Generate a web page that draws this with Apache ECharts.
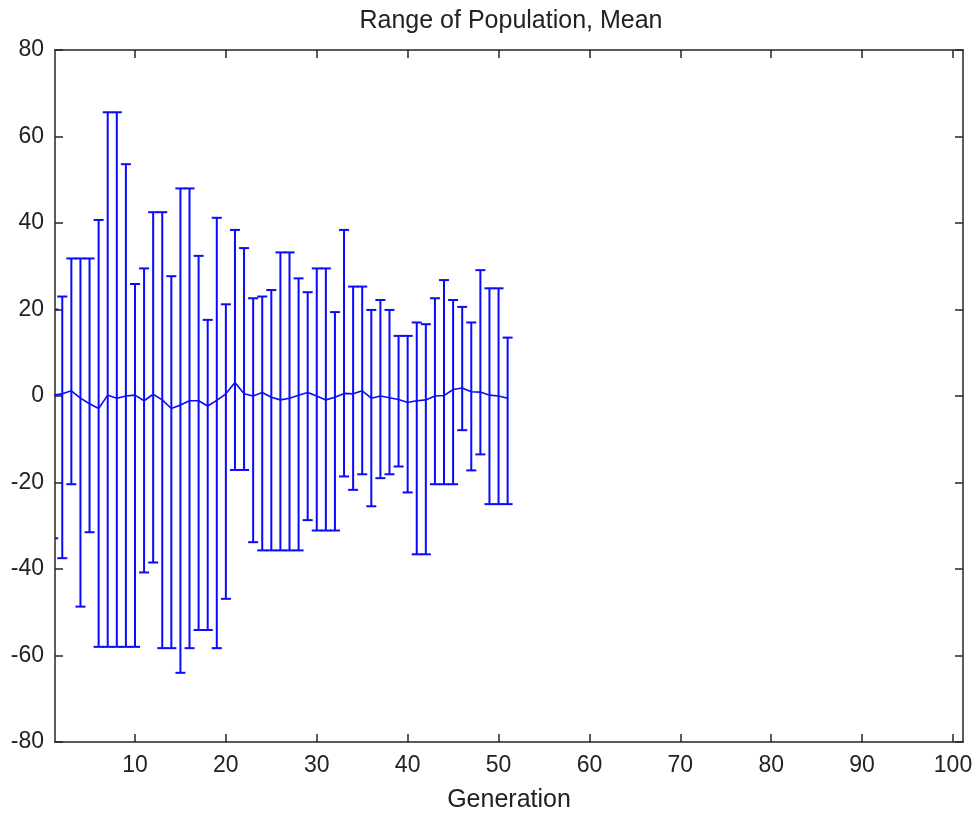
<!DOCTYPE html>
<html>
<head>
<meta charset="utf-8">
<script src="https://cdn.jsdelivr.net/npm/echarts@6/dist/echarts.min.js"></script>
<style>
  html, body { margin: 0; padding: 0; background: #fff; }
  #chart { width: 976px; height: 813px; }
</style>
</head>
<body>
<div id="chart"></div>
<script>
// generation numbers
const generations = [1, 2, 3, 4, 5, 6, 7, 8, 9, 10, 11, 12, 13, 14, 15, 16, 17, 18, 19, 20,
    21, 22, 23, 24, 25, 26, 27, 28, 29, 30, 31, 32, 33, 34, 35, 36, 37, 38, 39, 40,
    41, 42, 43, 44, 45, 46, 47, 48, 49, 50, 51]
// population max / min / mean per generation
const upper = [20, 23, 31.8, 31.8, 31.8, 40.7, 65.6, 65.6, 53.6, 25.9, 29.5, 42.5, 42.5, 27.7, 48, 48, 32.4, 17.6, 41.2, 21.2,
    38.4, 34.2, 22.6, 23, 24.5, 33.2, 33.2, 27.2, 24, 29.5, 29.5, 19.4, 38.4, 25.3, 25.3, 19.9, 22.2, 19.9, 13.9, 13.9,
    17, 16.6, 22.6, 26.8, 22.2, 20.6, 17, 29.1, 24.9, 24.9, 13.5]
const lower = [-32.9, -37.5, -20.4, -48.7, -31.5, -58, -58, -58, -58, -58, -40.8, -38.5, -58.3, -58.3, -64, -58.3, -54.1, -54.1, -58.3, -46.9,
    -17.1, -17.1, -33.8, -35.7, -35.7, -35.7, -35.7, -35.7, -28.7, -31.1, -31.1, -31.1, -18.6, -21.7, -18.1, -25.5, -19, -18.1, -16.3, -22.3,
    -36.6, -36.6, -20.4, -20.4, -20.4, -7.9, -17.2, -13.5, -25, -25, -25]
const mean = [0.2, 0.5, 1.2, -0.5, -1.8, -2.9, 0.2, -0.5, 0, 0.2, -1.1, 0.4, -0.9, -2.9, -2.1, -1.1, -1.1, -2.3, -1.0, 0.5,
    3.1, 0.5, 0, 0.8, -0.3, -0.9, -0.5, 0.15, 0.8, 0, -0.9, -0.3, 0.6, 0.5, 1.2, -0.5, 0, -0.4, -0.8, -1.5,
    -1.1, -0.9, 0, 0.1, 1.5, 1.85, 1.0, 0.9, 0.2, 0, -0.5]
const xTicks = [10, 20, 30, 40, 50, 60, 70, 80, 90, 100]

const FONT = '"Liberation Sans", Arial, sans-serif'
const BLUE = '#0a0aff'
const AXIS = '#262626'

let chart = echarts.init(document.getElementById('chart'))

function xAx(pos, show) {
    return {
        type: 'value',
        position: pos,
        min: 1.2,
        max: 101.1,
        name: show ? 'Generation' : '',
        nameLocation: 'middle',
        nameGap: 46,
        nameTextStyle: { color: '#222', fontSize: 25, fontFamily: FONT },
        axisLine: { show: true, onZero: false, lineStyle: { color: AXIS, width: 1.5 } },
        axisTick: { show: true, inside: true, length: 8, customValues: xTicks, lineStyle: { color: AXIS, width: 1.5 } },
        axisLabel: { show: show, customValues: xTicks, color: '#222', fontSize: 23, fontFamily: FONT, margin: 12 },
        splitLine: { show: false }
    }
}

function yAx(pos, show) {
    return {
        type: 'value',
        position: pos,
        min: -80,
        max: 80,
        interval: 20,
        axisLine: { show: true, onZero: false, lineStyle: { color: AXIS, width: 1.5 } },
        axisTick: { show: true, inside: true, length: 8, lineStyle: { color: AXIS, width: 1.5 } },
        axisLabel: { show: show, color: '#222', fontSize: 23, fontFamily: FONT, margin: 11 },
        splitLine: { show: false }
    }
}

let barData = generations.map((g, i) => [g, lower[i], upper[i]])
let meanData = generations.map((g, i) => [g, mean[i]])

let option = {
    animation: false,
    backgroundColor: '#fff',
    title: {
        text: 'Range of Population, Mean',
        left: 506,
        top: 4,
        textAlign: 'center',
        textStyle: { color: '#222', fontSize: 25, fontWeight: 'normal', fontFamily: FONT }
    },
    grid: { left: 55, right: 13, top: 50, bottom: 71, containLabel: false, outerBoundsMode: 'none' },
    xAxis: [xAx('bottom', true), xAx('top', false)],
    yAxis: [yAx('left', true), yAx('right', false)],
    series: [{
            type: 'custom',
            xAxisIndex: 0,
            yAxisIndex: 0,
            data: barData,
            encode: { x: 0, y: [1, 2] },
            renderItem: function(params, api) {
                let lo = api.coord([api.value(0), api.value(1)])
                let hi = api.coord([api.value(0), api.value(2)])
                let cs = params.coordSys
                let half = 5
                let style = { stroke: BLUE, lineWidth: 2 }
                return {
                    type: 'group',
                    clipPath: { type: 'rect', shape: { x: cs.x, y: cs.y, width: cs.width, height: cs.height } },
                    children: [
                        { type: 'line', shape: { x1: hi[0], y1: hi[1], x2: lo[0], y2: lo[1] }, style: style },
                        { type: 'line', shape: { x1: hi[0] - half, y1: hi[1], x2: hi[0] + half, y2: hi[1] }, style: style },
                        { type: 'line', shape: { x1: lo[0] - half, y1: lo[1], x2: lo[0] + half, y2: lo[1] }, style: style }
                    ]
                }
            }
        },
        {
            type: 'line',
            xAxisIndex: 0,
            yAxisIndex: 0,
            data: meanData,
            showSymbol: false,
            clip: true,
            lineStyle: { color: BLUE, width: 1.6 }
        }
    ]
}
chart.setOption(option)
</script>
</body>
</html>
